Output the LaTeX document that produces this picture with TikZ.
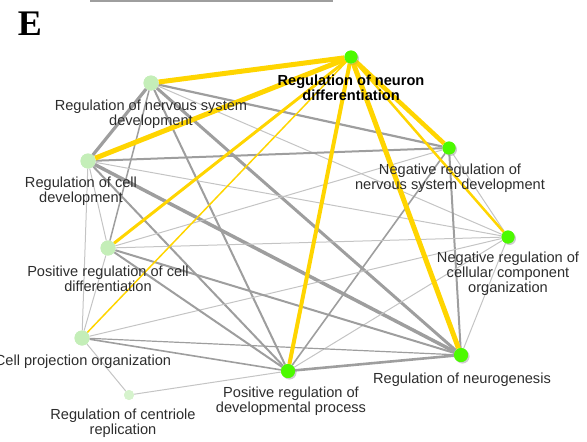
\documentclass[tikz,border=0pt]{standalone}
\usepackage{fontspec}
\setmainfont{Liberation Sans}
\newfontfamily\panelfont{Liberation Serif}
\usetikzlibrary{shadows}

\definecolor{termgreen}{RGB}{76,250,0}
\definecolor{palegreen}{RGB}{196,238,184}
\definecolor{linkgold}{RGB}{255,213,0}
\definecolor{linkgray}{RGB}{158,158,158}
\definecolor{lightgray}{RGB}{196,196,196}
\definecolor{tagcolor}{RGB}{45,45,45}

\begin{document}
\begin{tikzpicture}[x=1pt, y=-1pt,
    term/.style={circle, fill=termgreen, inner sep=0pt, minimum size=13pt,
      drop shadow={opacity=0.22, shadow xshift=1.5pt, shadow yshift=-1.5pt}},
    subterm/.style={circle, fill=palegreen, inner sep=0pt, minimum size=15pt},
    tag/.style={align=center, text=tagcolor, inner sep=0pt,
      font=\fontsize{14.6}{15.2}\selectfont},
    gold/.style={draw=linkgold, line width=#1},
    heavy/.style={draw=linkgray, line width=#1},
    faint/.style={draw=lightgray, line width=1pt}
  ]
    \useasboundingbox (0,0) rectangle (587,442);

    % Panel letter and rule
    \node[font=\panelfont\bfseries\fontsize{36}{36}\selectfont] at (30,24) (panel) {E};
    \draw[linkgray, line width=1.2pt] (90,1) -- (333,1);

    % Terms
    \node[term]    at (351,57)  (neuron)    {};
    \node[subterm] at (151,83)  (nervous)   {};
    \node[subterm] at (88,161)  (celldev)   {};
    \node[term]    at (449,148) (negnerv)   {};
    \node[term]    at (508,237) (negcell)   {};
    \node[subterm] at (108,248) (posdiff)   {};
    \node[subterm] at (82,338)  (projection){};
    \node[subterm, minimum size=10pt, fill=palegreen!70] at (129,395) (centriole) {};
    \node[term, minimum size=14pt] at (288,371) (posdev)    {};
    \node[term, minimum size=14pt] at (461,355) (neurogen)  {};

    % Gray links
    \draw[heavy=3.2] (nervous) -- (celldev);
    \draw[heavy=1.5] (nervous) -- (posdiff);
    \draw[heavy=2]   (nervous) -- (posdev);
    \draw[heavy=3]   (nervous) -- (neurogen);
    \draw[heavy=2.2] (nervous) -- (negnerv);
    \draw[faint]     (nervous) -- (negcell);
    \draw[heavy=2]   (celldev) -- (negnerv);
    \draw[faint]     (celldev) -- (negcell);
    \draw[faint]     (celldev) -- (posdiff);
    \draw[faint]     (celldev) -- (projection);
    \draw[heavy=2]   (celldev) -- (posdev);
    \draw[heavy=3.5] (celldev) -- (neurogen);
    \draw[faint]     (negnerv) -- (negcell);
    \draw[faint]     (negnerv) -- (posdiff);
    \draw[heavy=1.6] (negnerv) -- (posdev);
    \draw[heavy=2]   (negnerv) -- (neurogen);
    \draw[faint]     (negcell) -- (posdiff);
    \draw[faint]     (negcell) -- (projection);
    \draw[faint]     (negcell) -- (posdev);
    \draw[faint]     (negcell) -- (neurogen);
    \draw[faint]     (posdiff) -- (projection);
    \draw[heavy=2]   (posdiff) -- (posdev);
    \draw[heavy=2]   (posdiff) -- (neurogen);
    \draw[faint]     (projection) -- (centriole);
    \draw[heavy=1.6] (projection) -- (posdev);
    \draw[heavy=1.2] (projection) -- (neurogen);
    \draw[faint]     (centriole) -- (posdev);
    \draw[heavy=2.6] (posdev) -- (neurogen);

    % Gold links from the central term
    \draw[gold=5]   (neuron) -- (nervous);
    \draw[gold=5]   (neuron) -- (celldev);
    \draw[gold=4.5] (neuron) -- (negnerv);
    \draw[gold=2.5] (neuron) -- (negcell);
    \draw[gold=3]   (neuron) -- (posdiff);
    \draw[gold=1.5] (neuron) -- (projection);
    \draw[gold=4]   (neuron) -- (posdev);
    \draw[gold=5]   (neuron) -- (neurogen);

    % Redraw dots over the links
    \node[term]    at (neuron)     {};
    \node[subterm] at (nervous)    {};
    \node[subterm] at (celldev)    {};
    \node[term]    at (negnerv)    {};
    \node[term]    at (negcell)    {};
    \node[subterm] at (posdiff)    {};
    \node[subterm] at (projection) {};
    \node[subterm, minimum size=10pt, fill=palegreen!70] at (centriole) {};
    \node[term, minimum size=14pt] at (posdev)   {};
    \node[term, minimum size=14pt] at (neurogen) {};

    % Labels
    \node[tag, font=\fontsize{14.6}{15.2}\selectfont\bfseries, text=black] at (351,88) (neuronlbl) {Regulation of neuron\\differentiation};
    \node[tag] at (151,114) (nervouslbl)   {Regulation of nervous system\\development};
    \node[tag] at (81,191)  (celldevlbl)   {Regulation of cell\\development};
    \node[tag] at (450,178) (negnervlbl)   {Negative regulation of\\nervous system development};
    \node[tag] at (508,274) (negcelllbl)   {Negative regulation of\\cellular component\\organization};
    \node[tag] at (108,279) (posdifflbl)   {Positive regulation of cell\\differentiation};
    \node[tag] at (83,362)  (projectionlbl){Cell projection organization};
    \node[tag] at (123,423) (centriolelbl) {Regulation of centriole\\replication};
    \node[tag] at (291,401) (posdevlbl)    {Positive regulation of\\developmental process};
    \node[tag] at (462,380) (neurogenlbl)  {Regulation of neurogenesis};

  \end{tikzpicture}
\end{document}
